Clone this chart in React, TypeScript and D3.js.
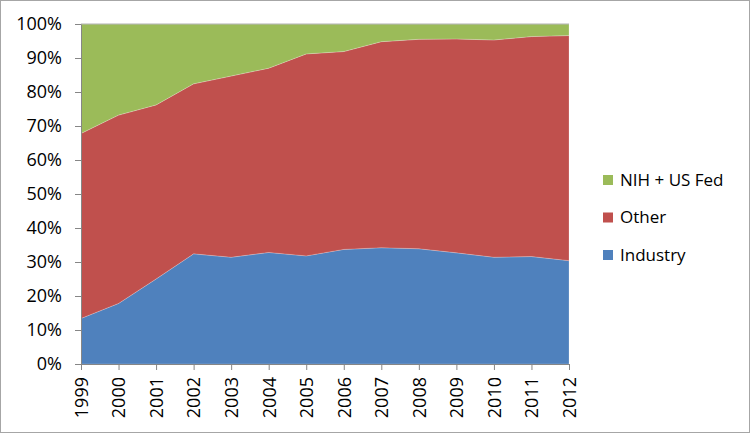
import React, { useEffect, useRef } from 'react';
import * as d3 from 'd3';

const years = [1999, 2000, 2001, 2002, 2003, 2004, 2005, 2006, 2007, 2008, 2009, 2010, 2011, 2012];
const industry = [13.4, 17.8, 25.0, 32.4, 31.4, 32.8, 31.8, 33.7, 34.2, 33.9, 32.7, 31.4, 31.6, 30.4];
const other = [54.4, 55.4, 51.2, 50.0, 53.3, 54.2, 59.4, 58.2, 60.6, 61.6, 62.9, 63.9, 64.7, 66.2];
const nihFed = [32.2, 26.8, 23.8, 17.6, 15.3, 13.0, 8.8, 8.1, 5.2, 4.5, 4.4, 4.7, 3.7, 3.4];
const yTicks = [0, 10, 20, 30, 40, 50, 60, 70, 80, 90, 100];

const seriesNames = ['Industry', 'Other', 'NIH + US Fed'];
const seriesColors = ['#4F81BD', '#C0504D', '#9BBB59'];

function App() {
  const ref = useRef<SVGSVGElement>(null);

  useEffect(() => {
    const svg = d3.select(ref.current);
    svg.selectAll('*').remove();

    const width = 750, height = 433;
    const margin = { top: 24, left: 81, right: 181, bottom: 69 };
    const font = '"Open Sans", sans-serif';

    svg.append('rect')
      .attr('x', 0.5).attr('y', 0.5)
      .attr('width', width - 1).attr('height', height - 1)
      .attr('fill', 'white')
      .attr('stroke', '#a6a6a6');

    const rows = years.map((yr, i) => ({
      year: yr, 'Industry': industry[i], 'Other': other[i], 'NIH + US Fed': nihFed[i]
    }));

    const stacked = d3.stack<any>()
      .keys(seriesNames)
      .offset(d3.stackOffsetExpand)(rows);

    const x = d3.scaleLinear()
      .domain([years[0], years[years.length - 1]])
      .range([margin.left, width - margin.right]);
    const y = d3.scaleLinear()
      .domain([0, 1])
      .range([height - margin.bottom, margin.top]);

    const area = d3.area<any>()
      .x(d => x(d.data.year))
      .y0(d => y(d[0]))
      .y1(d => y(d[1]));

    svg.append('g')
      .selectAll('path')
      .data(stacked)
      .join('path')
      .attr('fill', (d, i) => seriesColors[i])
      .attr('stroke', 'rgba(255,255,255,0.35)')
      .attr('stroke-width', 0.6)
      .attr('d', area);

    // top line
    svg.append('line')
      .attr('x1', margin.left).attr('x2', width - margin.right)
      .attr('y1', y(1)).attr('y2', y(1))
      .attr('stroke', '#b0b0b0');

    // y axis
    const yAxis = svg.append('g')
      .attr('transform', `translate(${margin.left},0)`)
      .call(d3.axisLeft(y)
        .tickValues(yTicks.map(t => t / 100))
        .tickFormat(d => Math.round(+d * 100) + '%')
        .tickSize(6)
        .tickSizeOuter(0)
        .tickPadding(13));
    yAxis.select('.domain').attr('stroke', '#868686');
    yAxis.selectAll('line').attr('stroke', '#868686');
    yAxis.selectAll('text')
      .attr('fill', '#000')
      .style('font-family', font)
      .style('font-size', '18px');

    // x axis
    const xAxis = svg.append('g')
      .attr('transform', `translate(0,${height - margin.bottom})`)
      .call(d3.axisBottom(x)
        .tickValues(years)
        .tickFormat(d => String(d))
        .tickSize(6)
        .tickSizeOuter(0));
    xAxis.select('.domain').attr('stroke', '#868686');
    xAxis.selectAll('line').attr('stroke', '#868686');
    xAxis.selectAll('text')
      .attr('fill', '#000')
      .attr('transform', 'rotate(-90)')
      .attr('x', -13)
      .attr('y', 0)
      .attr('dy', '0.35em')
      .style('text-anchor', 'end')
      .style('font-family', font)
      .style('font-size', '18px');

    // legend
    const legend = svg.append('g')
      .selectAll('g')
      .data(seriesNames.slice().reverse())
      .join('g')
      .attr('transform', (d, i) => `translate(603,${180 + i * 37.5})`);
    legend.append('rect')
      .attr('x', 0).attr('y', -5)
      .attr('width', 10).attr('height', 10)
      .attr('fill', d => seriesColors[seriesNames.indexOf(d)]);
    legend.append('text')
      .attr('x', 17).attr('y', 0)
      .attr('dy', '0.35em')
      .attr('fill', '#000')
      .style('font-family', font)
      .style('font-size', '17px')
      .text(d => d);
  }, []);

  return (
    <svg ref={ref} width={750} height={433}
      style={{ position: 'absolute', left: 0, top: 0, display: 'block' }} />
  );
}

export default App;
